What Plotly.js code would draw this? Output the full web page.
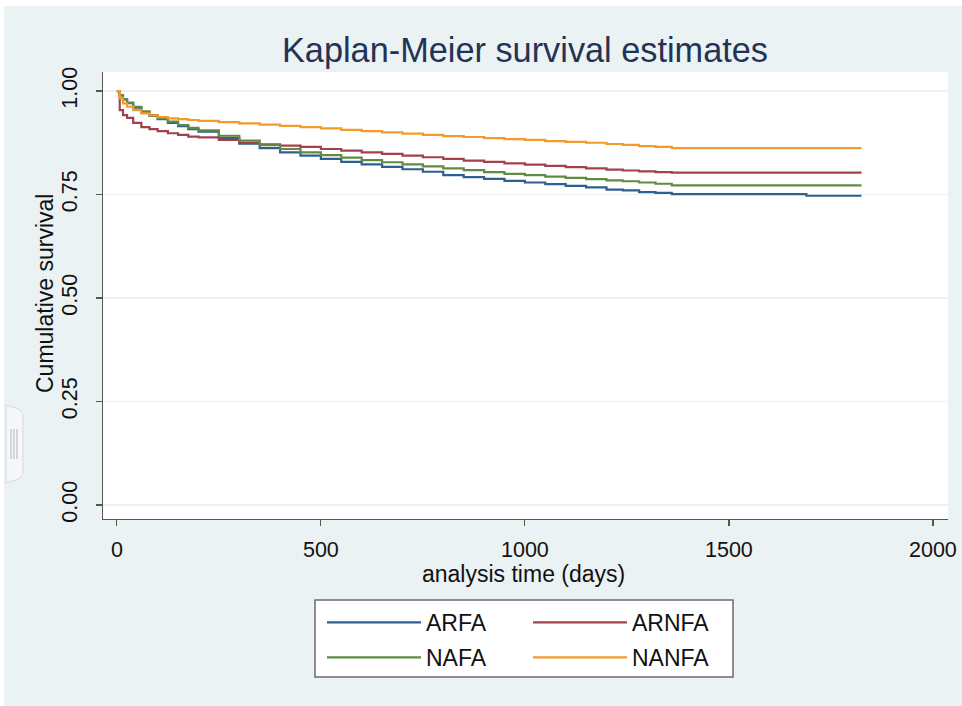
<!DOCTYPE html>
<html><head><meta charset="utf-8">
<script src="https://cdn.plot.ly/plotly-3.0.1.min.js"></script>
<style>html,body{margin:0;padding:0;background:#fff}</style>
</head><body><div id="chart" style="width:962px;height:706px"></div>
<script>
// analysis time (days) at which the step curves are read
const days = [0,7,15,25,40,60,80,100,125,150,175,200,250,300,350,400,450,500,550,600,650,700,750,800,850,900,950,1000,1050,1100,1150,1200,1240,1280,1320,1360,1400,1690,1825];

const ARFA  = [1.000,0.990,0.980,0.971,0.960,0.949,0.940,0.932,0.923,0.915,0.908,0.902,0.887,0.873,0.862,0.852,0.844,0.836,0.829,0.823,0.817,0.811,0.805,0.797,0.792,0.788,0.783,0.779,0.775,0.771,0.767,0.762,0.760,0.756,0.754,0.751,0.751,0.747,0.747];
const ARNFA = [1.000,0.954,0.942,0.935,0.923,0.913,0.908,0.903,0.898,0.894,0.890,0.888,0.882,0.875,0.871,0.868,0.865,0.860,0.856,0.852,0.848,0.844,0.840,0.836,0.832,0.829,0.825,0.822,0.819,0.816,0.813,0.810,0.808,0.806,0.804,0.803,0.803,0.803,0.803];
const NAFA  = [1.000,0.990,0.980,0.972,0.962,0.951,0.942,0.934,0.926,0.918,0.911,0.905,0.892,0.880,0.869,0.860,0.852,0.845,0.839,0.833,0.828,0.823,0.818,0.813,0.809,0.804,0.800,0.797,0.793,0.790,0.787,0.784,0.782,0.779,0.776,0.772,0.772,0.772,0.772];
const NANFA = [1.000,0.983,0.970,0.962,0.954,0.946,0.941,0.937,0.934,0.932,0.930,0.928,0.925,0.922,0.919,0.916,0.913,0.910,0.906,0.903,0.900,0.897,0.894,0.891,0.889,0.886,0.884,0.882,0.879,0.877,0.875,0.872,0.870,0.867,0.865,0.862,0.862,0.862,0.862];

const seriesNames = ['ARFA','ARNFA','NAFA','NANFA'];
const seriesVals = [ARFA, ARNFA, NAFA, NANFA];
const seriesColors = ['#2f5f90','#a3404e','#5f8c42','#f39a2a'];
const seriesLegend = ['legend','legend2','legend','legend2'];

const xTicks = [0,500,1000,1500,2000];
const yTicks = [0,0.25,0.5,0.75,1];

const traces = seriesNames.map((n,i)=>({
  type:'scatter', mode:'lines', name:n, x:days, y:seriesVals[i],
  line:{color:seriesColors[i], width:2.2, shape:'hv'},
  legend:seriesLegend[i], legendgroup:n
}));

// pixel -> paper helpers for decorations
const L=103, R=948, T=72, B=519;
const px = v => (v-L)/(R-L);
const py = v => (B-v)/(B-T);

const FONT = 'Liberation Sans, Arial, sans-serif';
const BG = '#eaf2f3';

const shapes = [
  {type:'rect', xref:'paper', yref:'paper', x0:px(315), x1:px(733), y0:py(600), y1:py(677),
   fillcolor:'#ffffff', line:{color:'#6b6b6b', width:1.5}, layer:'above'},
  {type:'rect', xref:'paper', yref:'paper', x0:px(0), x1:px(962), y0:py(0), y1:py(6),
   fillcolor:'#ffffff', line:{width:0}},
  {type:'rect', xref:'paper', yref:'paper', x0:px(0), x1:px(4), y0:py(0), y1:py(706),
   fillcolor:'#ffffff', line:{width:0}},
  {type:'path', xref:'paper', yref:'paper',
   path:`M ${px(6)} ${py(405)} L ${px(16)} ${py(408)} Q ${px(23)} ${py(410)} ${px(23)} ${py(418)} L ${px(23)} ${py(470)} Q ${px(23)} ${py(478)} ${px(16)} ${py(480)} L ${px(6)} ${py(483)} Z`,
   fillcolor:'#f5f7f8', line:{color:'#d3d9dc', width:1}},
  {type:'line', xref:'paper', yref:'paper', x0:px(11), x1:px(11), y0:py(429), y1:py(459), line:{color:'#c9cdd0', width:1.5}},
  {type:'line', xref:'paper', yref:'paper', x0:px(14), x1:px(14), y0:py(429), y1:py(459), line:{color:'#c9cdd0', width:1.5}},
  {type:'line', xref:'paper', yref:'paper', x0:px(17), x1:px(17), y0:py(429), y1:py(459), line:{color:'#c9cdd0', width:1.5}}
];

const legendCommon = {
  xref:'container', yref:'container', xanchor:'left', yanchor:'top',
  orientation:'v', bgcolor:'rgba(0,0,0,0)', borderwidth:0,
  font:{family:FONT, size:23, color:'#111'}, itemwidth:94, tracegroupgap:2
};

const layout = {
  width:962, height:706,
  paper_bgcolor:BG, plot_bgcolor:'#ffffff',
  margin:{l:L, r:962-R, t:T, b:706-B, pad:0, autoexpand:false},
  font:{family:FONT, color:'#111'},
  title:{text:'Kaplan-Meier survival estimates', xref:'container', x:525/962, xanchor:'center',
         yref:'container', y:1-50/706, yanchor:'middle',
         font:{family:FONT, size:34.3, color:'#243256'}},
  xaxis:{range:[-34,2037], tickvals:xTicks, ticktext:xTicks.map(String), tickangle:0,
         showline:true, linecolor:'#555', linewidth:1.2, mirror:false,
         ticks:'outside', ticklen:6, tickcolor:'#555', tickwidth:1.2,
         showgrid:false, zeroline:false, ticklabelstandoff:5,
         tickfont:{family:FONT, size:21.5, color:'#111'}},
  yaxis:{range:[-0.034,1.046], tickvals:yTicks, tickformat:'.2f', tickangle:-90,
         showline:true, linecolor:'#555', linewidth:1.2,
         ticks:'outside', ticklen:6, tickcolor:'#555', tickwidth:1.2,
         showgrid:true, gridcolor:BG, gridwidth:1.5, zeroline:false, ticklabelstandoff:10,
         tickfont:{family:FONT, size:21.5, color:'#111'}},
  annotations:[
    {text:'Cumulative survival', xref:'paper', yref:'paper', x:px(45), y:py(294),
     xanchor:'center', yanchor:'middle', textangle:-90, showarrow:false,
     font:{family:FONT, size:23, color:'#111'}},
    {text:'analysis time (days)', xref:'paper', yref:'paper', x:px(523), y:py(574),
     xanchor:'center', yanchor:'middle', showarrow:false,
     font:{family:FONT, size:23, color:'#111'}}
  ],
  showlegend:true,
  legend:Object.assign({x:322/962, y:1-601/706}, legendCommon),
  legend2:Object.assign({x:528/962, y:1-601/706}, legendCommon),
  shapes:shapes
};

Plotly.newPlot('chart', traces, layout, {displayModeBar:false, staticPlot:true});
</script>
</body></html>
